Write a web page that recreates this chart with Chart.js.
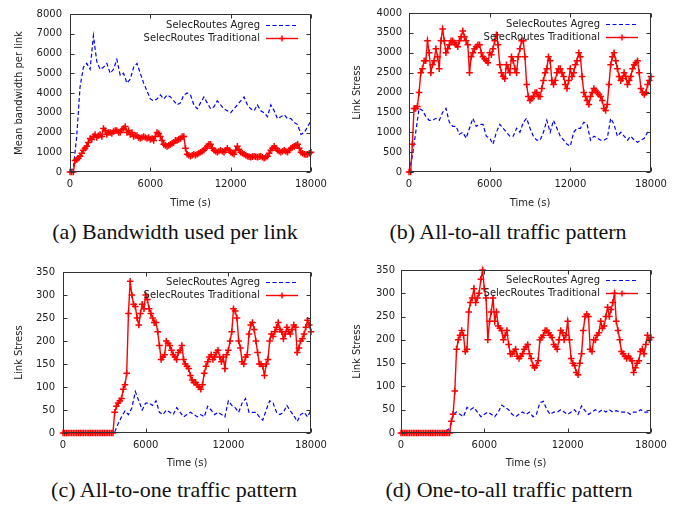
<!DOCTYPE html>
<html>
<head>
<meta charset="utf-8">
<script src="https://cdn.jsdelivr.net/npm/chart.js@4.4.0/dist/chart.umd.min.js"></script>
<style>
  body { margin: 0; background: #fff; width: 685px; height: 508px; position: relative; overflow: hidden; }
  .panel { position: absolute; }
  .caption {
    position: absolute;
    font-family: "Liberation Serif", "Times New Roman", serif;
    font-size: 22px;
    line-height: 22px;
    white-space: nowrap;
    transform: translateX(-50%);
    color: #111;
  }
</style>
</head>
<body>
<div class="panel" style="left:0;top:0;width:342px;height:215px"><canvas id="chartA"></canvas></div>
<div class="panel" style="left:342px;top:0;width:343px;height:215px"><canvas id="chartB"></canvas></div>
<div class="panel" style="left:0;top:258px;width:342px;height:215px"><canvas id="chartC"></canvas></div>
<div class="panel" style="left:342px;top:258px;width:343px;height:215px"><canvas id="chartD"></canvas></div>

<div class="caption" style="left:175px;top:221px">(a) Bandwidth used per link</div>
<div class="caption" style="left:508px;top:221px">(b) All-to-all traffic pattern</div>
<div class="caption" style="left:174px;top:479px">(c) All-to-one traffic pattern</div>
<div class="caption" style="left:509px;top:479px">(d) One-to-all traffic pattern</div>

<script>
// time axis (s) for the Agreg series, one sample every 250 s
const times = [0, 250, 500, 750, 1000, 1250, 1500, 1750, 2000, 2250, 2500, 2750, 3000, 3250, 3500, 3750,
  4000, 4250, 4500, 4750, 5000, 5250, 5500, 5750, 6000, 6250, 6500, 6750, 7000, 7250, 7500, 7750,
  8000, 8250, 8500, 8750, 9000, 9250, 9500, 9750, 10000, 10250, 10500, 10750, 11000, 11250, 11500, 11750,
  12000, 12250, 12500, 12750, 13000, 13250, 13500, 13750, 14000, 14250, 14500, 14750, 15000, 15250, 15500, 15750,
  16000, 16250, 16500, 16750, 17000, 17250, 17500, 17750, 18000];

// time axis (s) for the Traditional series, one sample every 125 s
const timesFine = [0, 125, 250, 375, 500, 625, 750, 875,
  1000, 1125, 1250, 1375, 1500, 1625, 1750, 1875,
  2000, 2125, 2250, 2375, 2500, 2625, 2750, 2875,
  3000, 3125, 3250, 3375, 3500, 3625, 3750, 3875,
  4000, 4125, 4250, 4375, 4500, 4625, 4750, 4875,
  5000, 5125, 5250, 5375, 5500, 5625, 5750, 5875,
  6000, 6125, 6250, 6375, 6500, 6625, 6750, 6875,
  7000, 7125, 7250, 7375, 7500, 7625, 7750, 7875,
  8000, 8125, 8250, 8375, 8500, 8625, 8750, 8875,
  9000, 9125, 9250, 9375, 9500, 9625, 9750, 9875,
  10000, 10125, 10250, 10375, 10500, 10625, 10750, 10875,
  11000, 11125, 11250, 11375, 11500, 11625, 11750, 11875,
  12000, 12125, 12250, 12375, 12500, 12625, 12750, 12875,
  13000, 13125, 13250, 13375, 13500, 13625, 13750, 13875,
  14000, 14125, 14250, 14375, 14500, 14625, 14750, 14875,
  15000, 15125, 15250, 15375, 15500, 15625, 15750, 15875,
  16000, 16125, 16250, 16375, 16500, 16625, 16750, 16875,
  17000, 17125, 17250, 17375, 17500, 17625, 17750, 17875,
  18000];

const xTicks = [0, 6000, 12000, 18000];
const yTicksA = [0, 1000, 2000, 3000, 4000, 5000, 6000, 7000, 8000];
const yTicksB = [0, 500, 1000, 1500, 2000, 2500, 3000, 3500, 4000];
const yTicksCD = [0, 50, 100, 150, 200, 250, 300, 350];

const labelAgreg = "SelecRoutes Agreg";
const labelTrad = "SelecRoutes Traditional";

// (a) bandwidth used per link
const aAgreg = [0, 200, 1800, 4300, 5300, 5500, 5200, 6900, 5600, 5200,
  5300, 5500, 5000, 5200, 5700, 4900, 5000, 4500, 4700, 5300,
  5500, 5000, 4500, 4100, 3700, 3600, 3700, 3900, 3700, 3900,
  3800, 3600, 3400, 3500, 3900, 4000, 3900, 3400, 3200, 3500,
  3800, 3500, 3200, 3300, 3600, 3400, 3200, 3100, 3000, 3200,
  3400, 3600, 3800, 3400, 3200, 3100, 3400, 3100, 3000, 2800,
  3400, 3100, 2700, 2800, 2900, 2700, 2700, 2500, 2400, 1900,
  2000, 2300, 2600];
const aTrad = [0, 0, 0, 580, 620, 700, 800, 950,
  1100, 1200, 1300, 1500, 1700, 1650, 1800, 1900,
  1750, 1850, 1900, 1800, 2200, 2100, 1900, 2000,
  2000, 1950, 2050, 2100, 2100, 2000, 2000, 2150,
  2200, 2300, 2000, 2100, 1900, 2000, 1800, 1850,
  1850, 1750, 1700, 1750, 1800, 1750, 1700, 1750,
  1650, 1700, 1600, 1800, 2000, 1950, 1800, 1600,
  1400, 1350, 1300, 1350, 1400, 1450, 1500, 1600,
  1600, 1650, 1700, 1800, 1800, 1200, 900, 850,
  800, 850, 900, 850, 900, 950, 1000, 1050,
  1100, 1200, 1300, 1400, 1400, 1200, 1100, 1050,
  1000, 1050, 1100, 1050, 1000, 1100, 1200, 1100,
  1000, 950, 900, 1100, 1300, 1150, 1000, 950,
  900, 850, 800, 780, 750, 780, 800, 770,
  750, 780, 800, 750, 700, 750, 800, 950,
  1100, 1200, 1300, 1200, 1100, 1050, 1000, 1050,
  1100, 1050, 1000, 1100, 1200, 1250, 1300, 1350,
  1400, 1200, 1000, 950, 900, 880, 900, 950,
  1000];

// (b) all-to-all
const bAgreg = [0, 400, 1000, 1600, 1550, 1400, 1300, 1300, 1350, 1300,
  1500, 1600, 1250, 1150, 1150, 950, 1000, 850, 1100, 1350,
  1150, 1200, 1200, 900, 850, 700, 1000, 1200, 1100, 1000,
  900, 900, 1100, 1000, 1250, 1350, 1100, 900, 800, 800,
  1000, 1300, 1000, 1300, 1100, 900, 800, 700, 650, 1000,
  1100, 1100, 1250, 1200, 800, 900, 850, 800, 800, 850,
  1350, 1200, 900, 1000, 900, 800, 900, 800, 750, 800,
  850, 1000, 1000];
const bTrad = [0, 0, 700, 1600, 1600, 1650, 2000, 2500,
  2600, 2800, 2800, 3300, 3000, 2500, 2700, 2800,
  3100, 2900, 2600, 3300, 3600, 3300, 3000, 3100,
  3200, 3300, 3300, 3250, 3200, 3150, 3300, 3400,
  3550, 3400, 3300, 3200, 2500, 2900, 3000, 3100,
  3150, 3200, 3200, 3000, 2900, 2850, 2800, 2750,
  3000, 2950, 3100, 3300, 3450, 3200, 2700, 2500,
  2400, 2350, 2700, 2600, 2500, 2900, 2800, 2600,
  2500, 2900, 3100, 3300, 3300, 2900, 2200, 1900,
  1800, 1850, 1900, 2000, 2000, 1900, 1900, 2100,
  2300, 2500, 2600, 2900, 2800, 2300, 2200, 2300,
  2500, 2600, 2600, 2500, 2400, 2200, 2100, 2300,
  2600, 2400, 2500, 2700, 2800, 3000, 2900, 2400,
  2000, 1900, 1800, 1700, 1900, 2000, 2100, 2050,
  2000, 1950, 1900, 1800, 1600, 1550, 1700, 2200,
  2700, 2900, 3000, 2800, 2600, 2400, 2300, 2350,
  2500, 2400, 2200, 2300, 2400, 2600, 2700, 2750,
  2800, 2500, 2100, 2000, 1950, 2000, 2200, 2300,
  2400];

// (c) all-to-one
const cAgreg = [0, 0, 0, 0, 0, 0, 0, 0, 0, 0,
  0, 0, 0, 0, 0, 2, 20, 35, 48, 40,
  55, 90, 70, 50, 65, 65, 60, 70, 45, 40,
  50, 45, 40, 55, 45, 35, 40, 45, 40, 35,
  40, 35, 58, 50, 40, 45, 40, 35, 70, 60,
  55, 45, 65, 75, 45, 45, 45, 35, 28, 50,
  70, 65, 45, 40, 45, 60, 48, 38, 25, 40,
  45, 35, 50];
const cTrad = [0, 0, 0, 0, 0, 0, 0, 0,
  0, 0, 0, 0, 0, 0, 0, 0,
  0, 0, 0, 0, 0, 0, 0, 0,
  0, 0, 0, 0, 0, 0, 45, 58,
  65, 70, 75, 95, 105, 130, 260, 330,
  300, 280, 275, 250, 235, 260, 280, 270,
  300, 290, 270, 260, 250, 240, 240, 220,
  190, 160, 165, 170, 200, 195, 190, 180,
  170, 165, 160, 175, 180, 190, 160, 150,
  145, 140, 125, 115, 110, 110, 105, 100,
  95, 105, 130, 145, 155, 165, 170, 160,
  165, 175, 180, 165, 155, 165, 140, 170,
  180, 200, 220, 270, 265, 250, 200, 185,
  155, 150, 165, 170, 215, 235, 240, 225,
  200, 175, 150, 150, 145, 125, 150, 160,
  200, 215, 210, 220, 230, 240, 225, 220,
  205, 215, 230, 220, 215, 225, 235, 230,
  175, 185, 200, 205, 215, 230, 245, 235,
  220];

// (d) one-to-all
const dAgreg = [0, 0, 0, 0, 0, 0, 0, 0, 0, 0,
  0, 0, 0, 5, 10, 40, 45, 40, 35, 55,
  50, 55, 45, 35, 40, 45, 40, 35, 45, 60,
  55, 50, 40, 35, 40, 45, 40, 45, 35, 40,
  65, 68, 50, 40, 45, 45, 50, 45, 40, 45,
  50, 40, 58, 48, 40, 45, 50, 45, 50, 45,
  50, 45, 48, 45, 45, 45, 40, 45, 45, 50,
  45, 45, 45];
const dTrad = [0, 0, 0, 0, 0, 0, 0, 0,
  0, 0, 0, 0, 0, 0, 0, 0,
  0, 0, 0, 0, 0, 0, 0, 0,
  0, 0, 0, 0, 0, 25, 40, 90,
  180, 200, 210, 220, 210, 175, 180, 260,
  280, 290, 310, 280, 290, 300, 330, 350,
  310, 290, 200, 240, 260, 290, 240, 260,
  230, 225, 220, 200, 210, 220, 190, 170,
  170, 175, 180, 165, 160, 165, 170, 180,
  185, 190, 170, 160, 145, 140, 145, 155,
  200, 205, 210, 220, 220, 215, 210, 205,
  190, 185, 180, 200, 220, 215, 200, 210,
  240, 200, 160, 150, 145, 130, 125, 150,
  170, 220, 250, 255, 250, 180, 175, 200,
  200, 210, 215, 240, 225, 230, 250, 270,
  250, 265, 280, 300, 240, 220, 200, 175,
  170, 165, 160, 165, 160, 155, 130, 140,
  150, 155, 175, 180, 170, 190, 210, 200,
  205];

Chart.defaults.font.family = '"DejaVu Sans", sans-serif';
Chart.defaults.font.size = 10;
Chart.defaults.color = "#222";

// gnuplot-like box with inward ticks on all four sides
const framePlugin = {
  id: "frame",
  afterDatasetsDraw(chart) {
    const { ctx, chartArea: a, scales } = chart;
    const l = Math.round(a.left) + 0.5, r = Math.round(a.right) - 0.5;
    const t = Math.round(a.top) + 0.5, b = Math.round(a.bottom) - 0.5;
    ctx.save();
    ctx.strokeStyle = "#333";
    ctx.lineWidth = 1;
    ctx.setLineDash([]);
    ctx.strokeRect(l, t, r - l, b - t);
    ctx.beginPath();
    scales.y.ticks.forEach(tk => {
      const y = Math.round(scales.y.getPixelForValue(tk.value)) + 0.5;
      ctx.moveTo(l, y); ctx.lineTo(l + 4, y);
      ctx.moveTo(r, y); ctx.lineTo(r - 4, y);
    });
    scales.x.ticks.forEach(tk => {
      const x = Math.round(scales.x.getPixelForValue(tk.value)) + 0.5;
      ctx.moveTo(x, b); ctx.lineTo(x, b - 4);
      ctx.moveTo(x, t); ctx.lineTo(x, t + 4);
    });
    ctx.stroke();
    ctx.restore();
  }
};

// legend inside the top right corner: text first, then line sample
const legendPlugin = {
  id: "insideLegend",
  afterDraw(chart, args, opts) {
    const { ctx, chartArea: a } = chart;
    ctx.save();
    ctx.font = '10px "DejaVu Sans", sans-serif';
    ctx.textAlign = "right";
    ctx.textBaseline = "middle";
    chart.data.datasets.forEach((ds, i) => {
      const y = Math.round(a.top + opts.top + i * 12.5) + 0.5;
      ctx.fillStyle = "#222";
      ctx.fillText(ds.label, a.right - 51, y);
      ctx.strokeStyle = ds.borderColor;
      ctx.lineWidth = ds.borderWidth;
      ctx.setLineDash(ds.borderDash || []);
      ctx.beginPath();
      ctx.moveTo(a.right - 45, y);
      ctx.lineTo(a.right - 13, y);
      ctx.stroke();
      if (ds.pointRadius > 0) {
        const cx = a.right - 29;
        ctx.setLineDash([]);
        ctx.beginPath();
        ctx.moveTo(cx - 3, y); ctx.lineTo(cx + 3, y);
        ctx.moveTo(cx, y - 3); ctx.lineTo(cx, y + 3);
        ctx.stroke();
      }
    });
    ctx.restore();
  }
};

const toPoints = (xs, ys) => ys.map((y, i) => ({ x: xs[i], y: y }));

function makeChart(id, agreg, trad, yTicks, yTitle, g) {
  new Chart(document.getElementById(id), {
    type: "line",
    data: {
      datasets: [
        {
          label: labelAgreg,
          data: toPoints(times, agreg),
          borderColor: "#0000ff",
          borderWidth: 1.2,
          borderDash: [4, 2.5],
          pointRadius: 0,
          tension: 0,
          order: 1
        },
        {
          label: labelTrad,
          data: toPoints(timesFine, trad),
          borderColor: "#ff0000",
          backgroundColor: "#ff0000",
          borderWidth: 1.4,
          pointStyle: "cross",
          pointRadius: 3.3,
          pointBorderWidth: 1.5,
          pointBorderColor: "#ff0000",
          tension: 0,
          clip: false,
          order: 0
        }
      ]
    },
    options: {
      responsive: true,
      maintainAspectRatio: false,
      animation: false,
      layout: { padding: { top: g.padTop, right: g.padRight, left: 0, bottom: 0 } },
      plugins: {
        legend: { display: false },
        tooltip: { enabled: false },
        insideLegend: { top: g.legendTop }
      },
      scales: {
        x: {
          type: "linear",
          min: 0,
          max: 18000,
          afterBuildTicks: s => { s.ticks = xTicks.map(v => ({ value: v })); },
          afterFit: s => { s.height = g.xHeight; },
          grid: { display: false, drawTicks: false },
          border: { display: false },
          ticks: { padding: 6, maxRotation: 0, color: "#222", callback: v => String(v) },
          title: { display: true, text: "Time (s)", color: "#222", padding: { top: 0, bottom: g.xTitlePb } }
        },
        y: {
          min: yTicks[0],
          max: yTicks[yTicks.length - 1],
          afterBuildTicks: s => { s.ticks = yTicks.map(v => ({ value: v })); },
          afterFit: s => { s.width = g.yWidth; },
          grid: { display: false, drawTicks: false },
          border: { display: false },
          ticks: { padding: g.yTickPad, color: "#222", callback: v => String(v) },
          title: { display: true, text: yTitle, color: "#222", padding: { top: g.yTitlePad, bottom: 0 } }
        }
      }
    },
    plugins: [framePlugin, legendPlugin]
  });
}

makeChart("chartA", aAgreg, aTrad, yTicksA, "Mean bandwidth per link",
  { padTop: 9, padRight: 31, yWidth: 70, xHeight: 43, yTickPad: 8, yTitlePad: 13, xTitlePb: 6, legendTop: 11 });
makeChart("chartB", bAgreg, bTrad, yTicksB, "Link Stress",
  { padTop: 9, padRight: 34, yWidth: 67, xHeight: 43, yTickPad: 7, yTitlePad: 9, xTitlePb: 6, legendTop: 11 });
makeChart("chartC", cAgreg, cTrad, yTicksCD, "Link Stress",
  { padTop: 12, padRight: 31, yWidth: 63, xHeight: 40, yTickPad: 8, yTitlePad: 13, xTitlePb: 4, legendTop: 10 });
makeChart("chartD", dAgreg, dTrad, yTicksCD, "Link Stress",
  { padTop: 12, padRight: 34, yWidth: 59, xHeight: 40, yTickPad: 6, yTitlePad: 9, xTitlePb: 4, legendTop: 10 });
</script>
</body>
</html>
